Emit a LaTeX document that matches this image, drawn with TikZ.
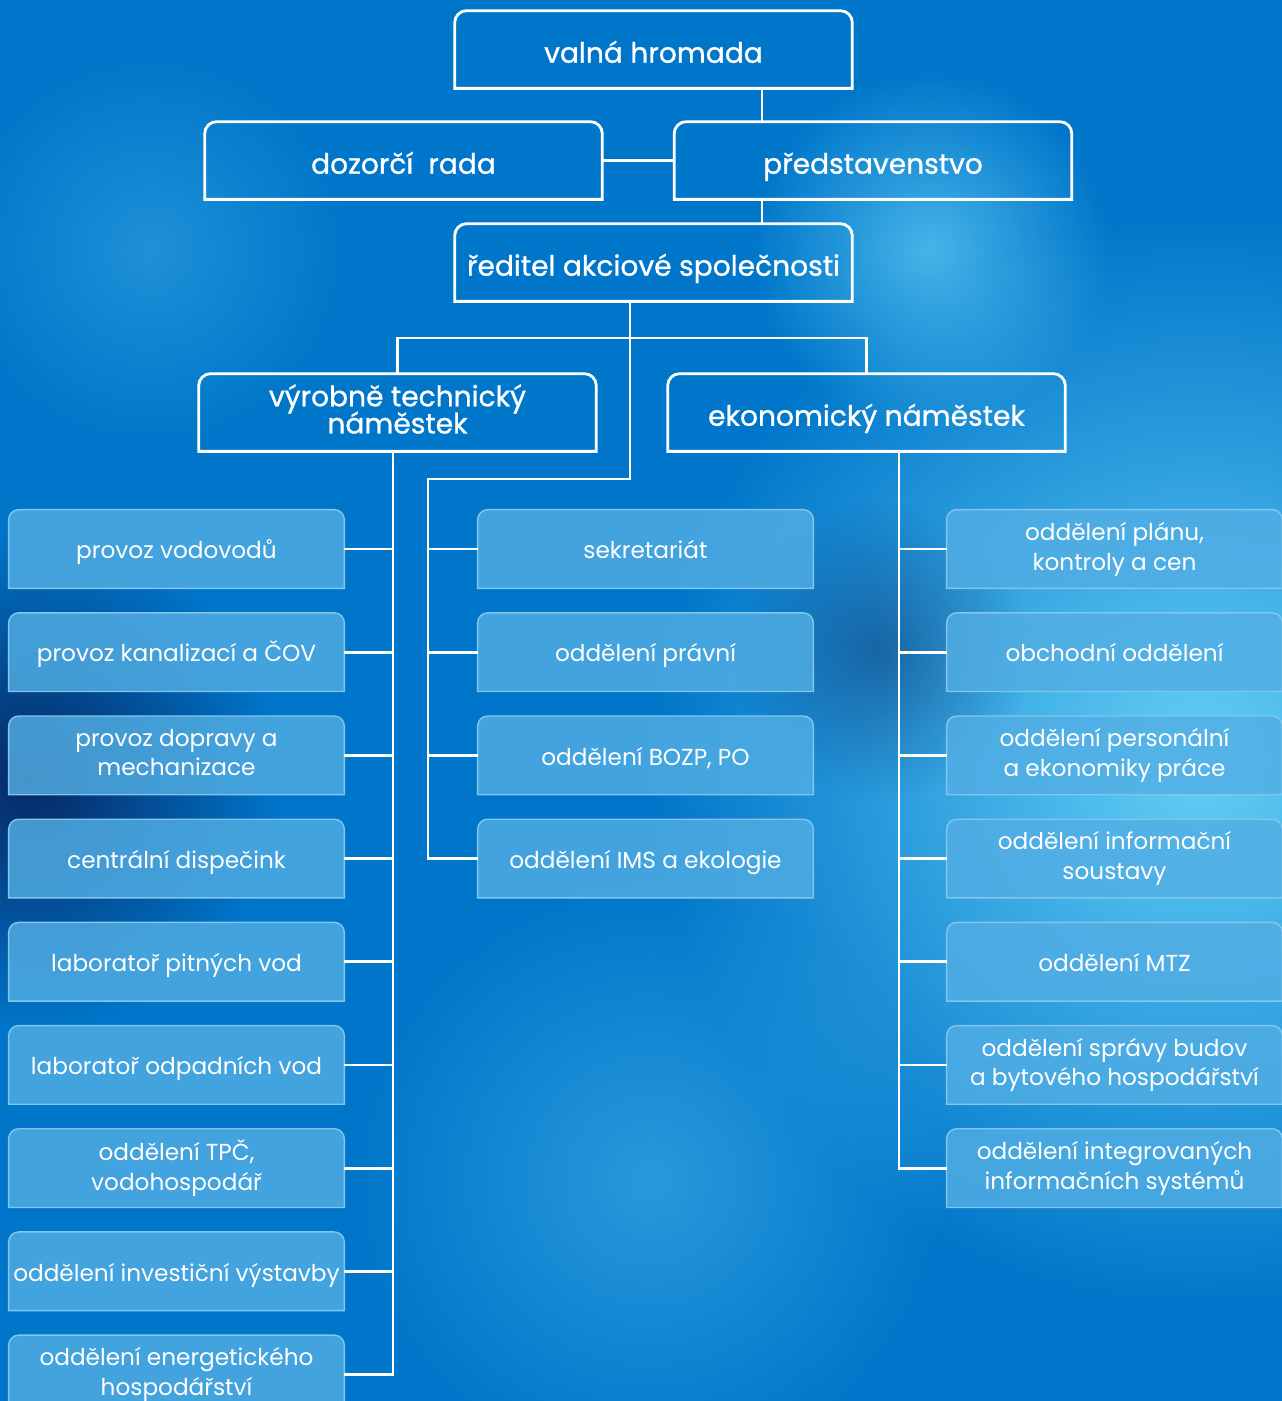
\documentclass[tikz,border=0pt]{standalone}
\usepackage{fontspec}
\setmainfont{Poppins}
\newfontfamily\headfont[FakeBold=1]{Poppins}
\usetikzlibrary{positioning, calc, fadings}
\definecolor{bg-blue}{RGB}{0,118,202}
\definecolor{bg-dark}{RGB}{6,40,100}
\definecolor{bg-glow}{RGB}{100,208,246}
\definecolor{box-fill}{RGB}{82,174,228}
\definecolor{box-line}{RGB}{130,198,238}
\tikzfading[name=glowfade, inner color=transparent!0, outer color=transparent!100]
\pgfdeclarelayer{back}
\pgfdeclarelayer{boxes}
\pgfsetlayers{back,boxes,main}

\begin{document}
\begin{tikzpicture}[
    x=0.02cm, y=-0.02cm,
    node distance=0.49cm,
    head/.style={minimum width=7.94cm, minimum height=1.54cm, inner sep=0pt, font=\headfont\fontsize{16}{17.5}\selectfont, text=white, align=center,
        execute at begin node={\rule{0pt}{1.2em}}, execute at end node={\vphantom{y}}},
    unit/.style={minimum width=6.7cm, minimum height=1.56cm, inner sep=0pt, font=\fontsize{13.2}{17}\selectfont, text=white, align=center,
        execute at begin node={\rule{0pt}{1.1em}}, execute at end node={\vphantom{y}}},
    headline/.style={draw=white, line width=1.6pt},
    unitfill/.style={fill=box-fill, fill opacity=0.82, draw=box-line, line width=0.8pt},
    link/.style={draw=white, line width=1.6pt}
]
\useasboundingbox (0,0) rectangle (1282,1401);

% Background
\begin{pgfonlayer}{back}
\fill[bg-blue] (0,0) rectangle (1282,1401);
\fill[bg-glow, path fading=glowfade] (1200,760) circle (11cm);
\fill[bg-glow, path fading=glowfade, fill opacity=0.7] (930,250) circle (3.6cm);
\fill[bg-glow, path fading=glowfade, fill opacity=0.4] (650,1180) circle (6cm);
\fill[bg-glow, path fading=glowfade, fill opacity=0.3] (150,250) circle (4cm);
\fill[bg-dark, path fading=glowfade] (30,780) circle (5cm);
\fill[bg-dark, path fading=glowfade, fill opacity=0.45] (880,650) circle (3cm);
\end{pgfonlayer}

% Governing bodies
\node[head] (valna) at (653.5,49.5) {valná hromada};
\node[head] (dozor) at (403.5,160.5) {dozorčí\ \ rada};
\node[head] (pred) at (873,160.5) {představenstvo};
\node[head] (reditel) at (653.5,262.5) {ředitel akciové společnosti};
\node[head] (vyrob) at (397.5,412.5) {výrobně technický\\[-2pt]náměstek};
\node[head] (ekon) at (866.5,412.5) {ekonomický náměstek};

% Technical units
\node[unit] (l1) at (176.5,549) {provoz vodovodů};
\node[unit, below=of l1] (l2) {provoz kanalizací a ČOV};
\node[unit, below=of l2] (l3) {provoz dopravy a\\mechanizace};
\node[unit, below=of l3] (l4) {centrální dispečink};
\node[unit, below=of l4] (l5) {laboratoř pitných vod};
\node[unit, below=of l5] (l6) {laboratoř odpadních vod};
\node[unit, below=of l6] (l7) {oddělení TPČ,\\vodohospodář};
\node[unit, below=of l7] (l8) {oddělení investiční výstavby};
\node[unit, below=of l8] (l9) {oddělení energetického\\hospodářství};

% Director's staff
\node[unit] (c1) at (645.5,549) {sekretariát};
\node[unit, below=of c1] (c2) {oddělení právní};
\node[unit, below=of c2] (c3) {oddělení BOZP, PO};
\node[unit, below=of c3] (c4) {oddělení IMS a ekologie};

% Economic units
\node[unit] (r1) at (1114.5,549) {oddělení plánu,\\kontroly a cen};
\node[unit, below=of r1] (r2) {obchodní oddělení};
\node[unit, below=of r2] (r3) {oddělení personální\\a ekonomiky práce};
\node[unit, below=of r3] (r4) {oddělení informační\\soustavy};
\node[unit, below=of r4] (r5) {oddělení MTZ};
\node[unit, below=of r5] (r6) {oddělení správy budov\\a bytového hospodářství};
\node[unit, below=of r6] (r7) {oddělení integrovaných\\informačních systémů};

% Box outlines
\foreach \n in {valna,dozor,pred,reditel,vyrob,ekon}
  \draw[headline] (\n.south west) [rounded corners=0.24cm] -- (\n.north west) -- (\n.north east) [sharp corners] -- (\n.south east) -- cycle;
\begin{pgfonlayer}{boxes}
\foreach \n in {l1,l2,l3,l4,l5,l6,l7,l8,l9,c1,c2,c3,c4,r1,r2,r3,r4,r5,r6,r7}
  \draw[unitfill] (\n.south west) [rounded corners=0.2cm] -- (\n.north west) -- (\n.north east) [sharp corners] -- (\n.south east) -- cycle;
\end{pgfonlayer}

% Connections
\coordinate (spine) at (762,0);
\coordinate (hub) at (630,338);
\coordinate (turn) at (630,479);
\coordinate (lspine) at (393,0);
\coordinate (cspine) at (428,0);
\coordinate (rspine) at (899,0);

\draw[link] (valna.south -| spine) -- (pred.north -| spine);
\draw[link] (dozor.east) -- (pred.west);
\draw[link] (pred.south -| spine) -- (reditel.north -| spine);
\draw[link] (vyrob.north) |- (hub) -| (ekon.north);
\draw[link] (reditel.south -| hub) -- (turn) -- (turn -| cspine) -- (c4.west -| cspine) -- (c4.west);
\foreach \i in {1,2,3}
  \draw[link] (c\i.west) -- (c\i.west -| cspine);
\draw[link] (vyrob.south -| lspine) -- (l9.east -| lspine) -- (l9.east);
\foreach \i in {1,...,8}
  \draw[link] (l\i.east) -- (l\i.east -| lspine);
\draw[link] (ekon.south -| rspine) -- (r7.west -| rspine) -- (r7.west);
\foreach \i in {1,...,6}
  \draw[link] (r\i.west) -- (r\i.west -| rspine);

\end{tikzpicture}
\end{document}
